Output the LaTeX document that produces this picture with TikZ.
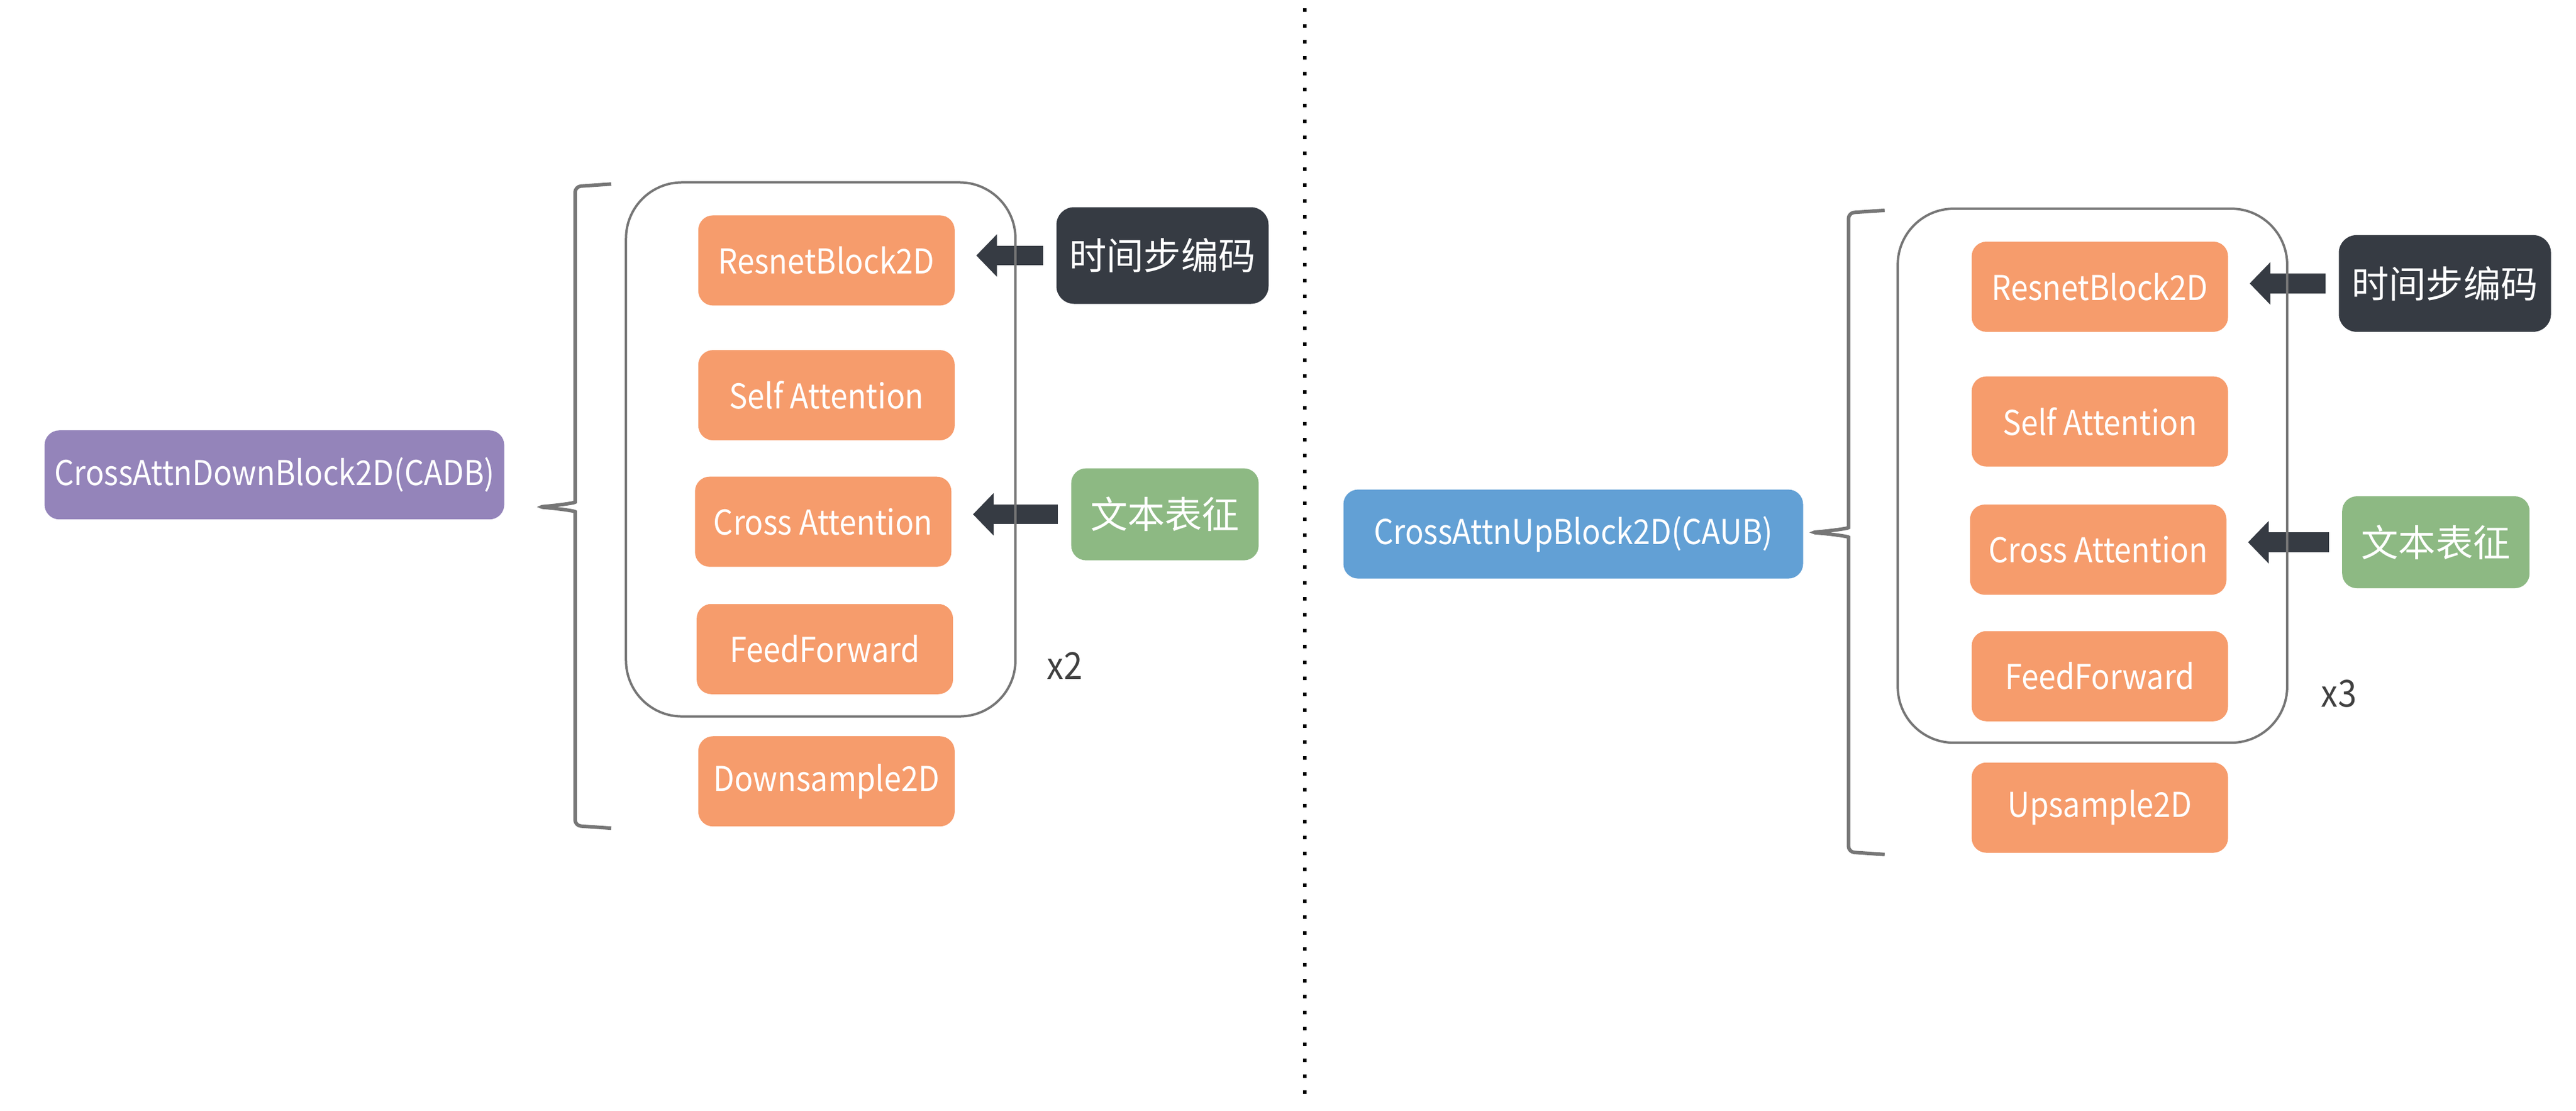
\documentclass[tikz,border=0pt]{standalone}
\usepackage{fontspec}
\setmainfont{Noto Sans CJK SC}[FakeStretch=0.9]
\newfontfamily\cjk{Noto Sans CJK SC}
\usetikzlibrary{arrows.meta}

\definecolor{orng}{RGB}{246,156,108}
\definecolor{purp}{RGB}{148,132,186}
\definecolor{blu}{RGB}{98,160,213}
\definecolor{drk}{RGB}{54,59,67}
\definecolor{grn}{RGB}{141,185,131}
\definecolor{lgray}{RGB}{118,118,118}

\begin{document}
\begin{tikzpicture}[x=0.2788mm, y=-0.2788mm,
	every node/.style={font=\fontsize{16.5pt}{20pt}\selectfont, inner sep=0pt},
	box/.style={rounded corners=2.5mm, text=white, minimum height=15.3mm},
	layer/.style={box, fill=orng, minimum width=43.5mm},
	block/.style={box, minimum width=78mm, minimum height=15.1mm},
	zh/.style={font=\cjk\fontsize{18pt}{22pt}\selectfont},
	timeenc/.style={box, zh, fill=drk, minimum width=36mm, minimum height=16.4mm, rounded corners=3mm},
	textenc/.style={box, zh, fill=grn, minimum width=31.8mm, minimum height=15.6mm},
	feed/.style={line width=3.35mm, drk, -{Triangle[width=7mm,length=3.5mm]}, shorten <=2.2mm, shorten >=3.6mm},
	frame/.style={draw=lgray, line width=0.4mm, rounded corners=9.5mm},
	brace/.style={draw=lgray, line width=0.6mm, rounded corners=1mm},
	times/.style={text=black!75, font=\fontsize{18pt}{22pt}\selectfont}]
	\useasboundingbox (0,0) rectangle (1567.8,675.8);

	% left half
	\node[block, fill=purp] (CADB) at (167,289) {CrossAttnDownBlock2D(CADB)};
	\node[layer] (resL) at (503,158.5) {ResnetBlock2D};
	\node[layer] (selfL) at (503,240.5) {Self Attention};
	\node[layer] (crossL) at (501,317.5) {Cross Attention};
	\node[layer] (ffL) at (502,395) {FeedForward};
	\node[layer] (downL) at (503,475.5) {Downsample2D};
	\node[timeenc] (tL) at (707.5,155.5) {时间步编码};
	\node[textenc] (eL) at (709,313) {文本表征};
	\node[times] (nL) at (648,405) {x2};

	\draw[feed] (tL.west) -- (tL.west -| resL.east);
	\draw[feed] (eL.west) -- (eL.west -| crossL.east);
	\draw[frame] (381,111) rectangle (618,436);
	\draw[brace] (372,112) -- (350,113.5) -- (350,302)
		.. controls (350,306) and (340,307.5) .. (327.5,308.5)
		.. controls (340,309.5) and (350,311) .. (350,315) -- (350,502.5) -- (372,504);

	% divider
	\draw[line width=0.6mm, dash pattern=on 0.6mm off 2.1mm] (794,5) -- (794,671);

	% right half
	\node[block, fill=blu] (CAUB) at (957.5,325) {CrossAttnUpBlock2D(CAUB)};
	\node[layer] (resR) at (1278,174.5) {ResnetBlock2D};
	\node[layer] (selfR) at (1278,256.5) {Self Attention};
	\node[layer] (crossR) at (1277,334.5) {Cross Attention};
	\node[layer] (ffR) at (1278,411.5) {FeedForward};
	\node[layer] (upR) at (1278,491.5) {Upsample2D};
	\node[timeenc] (tR) at (1488,172.5) {时间步编码};
	\node[textenc] (eR) at (1482.5,330) {文本表征};
	\node[times] (nR) at (1423.5,422) {x3};

	\draw[feed] (tR.west) -- (tR.west -| resR.east);
	\draw[feed] (eR.west) -- (eR.west -| crossR.east);
	\draw[frame] (1155,127) rectangle (1392,452);
	\draw[brace] (1147,128) -- (1125,129.5) -- (1125,317.5)
		.. controls (1125,321.5) and (1115,323) .. (1102,324)
		.. controls (1115,325) and (1125,326.5) .. (1125,330.5) -- (1125,518.5) -- (1147,520);
\end{tikzpicture}
\end{document}
